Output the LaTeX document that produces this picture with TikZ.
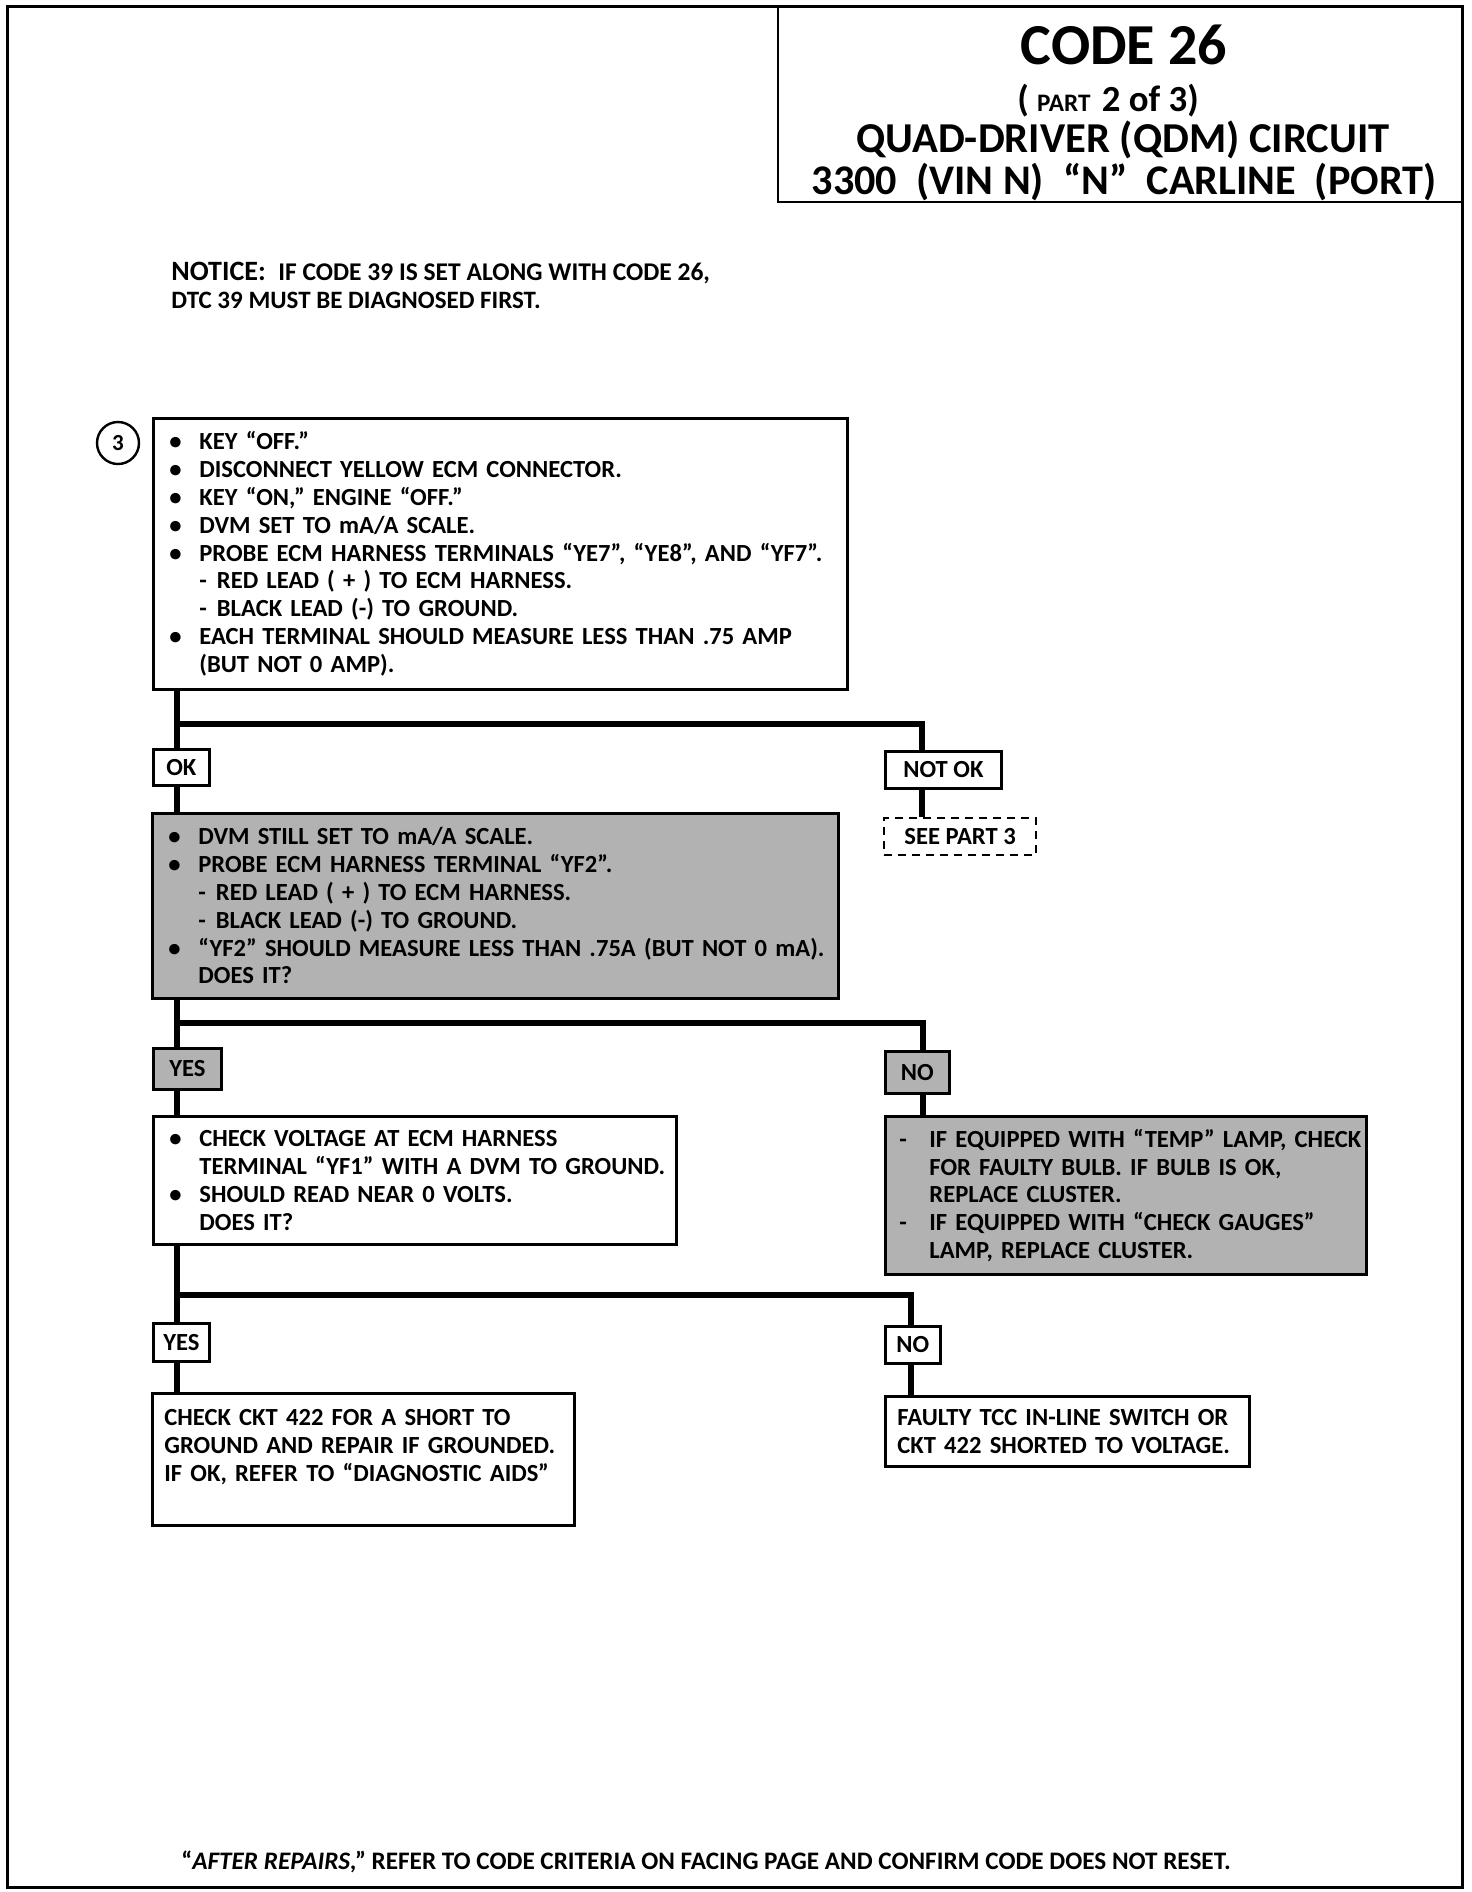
\documentclass[tikz,border=0pt]{standalone}
\usepackage{fontspec}
\setmainfont{Carlito}
\usetikzlibrary{positioning}

\newlength{\bulw}\setlength{\bulw}{15pt}
\newcommand{\bul}[1]{\makebox[\bulw][l]{\textbullet}\mbox{#1}}
\newcommand{\cnt}[1]{\hspace*{\bulw}\mbox{#1}}
\newcommand{\dsh}[1]{\hspace*{\bulw}\mbox{-\hspace{5pt}#1}}
\newcommand{\hy}[1]{\makebox[\bulw][l]{-}\mbox{#1}}

\begin{document}
\begin{tikzpicture}[x=0.5pt,y=-0.5pt,
box/.style={draw=black, line width=1.4pt, anchor=north west, align=left,
            inner xsep=8pt, inner ysep=0pt,
            font=\fontsize{12.3}{13.9}\selectfont\bfseries},
shaded/.style={box, fill=black!30},
tag/.style={draw=black, line width=1.4pt, anchor=north west, inner sep=0pt,
            font=\fontsize{12.3}{14}\selectfont\bfseries},
tagshade/.style={tag, fill=black!30},
ghost/.style={tag, line width=1.1pt, dash pattern=on 4pt off 3pt},
wire/.style={line width=3.2pt},
plain/.style={anchor=base, inner sep=0pt, font=\bfseries}
]
\useasboundingbox (0,0) rectangle (1472,1892);
\draw[line width=1.5pt] (7,6) rectangle (1462,1887);

% title block
\node[draw, line width=1.2pt, anchor=north west, minimum width=342.5pt,
      minimum height=97.5pt, inner sep=0pt] (title) at (777,6) {};
\node[plain] (code) at (1124,64) {\fontsize{29}{30}\selectfont CODE 26};
\node[plain] (part) at (1108,111)
  {\fontsize{18.4}{20}\selectfont (\ \fontsize{12.6}{14}\selectfont PART\ \ \fontsize{18.4}{20}\selectfont 2 of 3)};
\node[plain] (qdm) at (1123,152) {\fontsize{21.3}{23}\selectfont QUAD-DRIVER (QDM) CIRCUIT};
\node[plain] (vin) at (1124,194)
  {\fontsize{21.1}{23}\selectfont 3300\ \ (VIN N)\ \ “N”\ \ CARLINE\ \ (PORT)};

% notice
\node[plain, anchor=base west] (notice) at (171,280)
  {\fontsize{14}{16}\selectfont NOTICE:\ \ \fontsize{12.75}{14}\selectfont IF CODE 39 IS SET ALONG WITH CODE 26,};
\node[plain, anchor=base west, font=\fontsize{12.5}{14}\selectfont\bfseries] (notice2) at (171,308)
  {DTC 39 MUST BE DIAGNOSED FIRST.};

% step 3
\node[draw, circle, line width=1.2pt, minimum size=21pt, inner sep=0pt,
      font=\fontsize{11.5}{12}\selectfont\bfseries] (three) at (118,443) {3};

\node[box, text width=331pt, minimum height=135.5pt] (box1) at (152,417)
{\bul{KEY “OFF.”}\\
 \bul{DISCONNECT YELLOW ECM CONNECTOR.}\\
 \bul{KEY “ON,” ENGINE “OFF.”}\\
 \bul{DVM SET TO mA/A SCALE.}\\
 \bul{PROBE ECM HARNESS TERMINALS “YE7”, “YE8”, AND “YF7”.}\\
 \dsh{RED LEAD ( + ) TO ECM HARNESS.}\\
 \dsh{BLACK LEAD (-) TO GROUND.}\\
 \bul{EACH TERMINAL SHOULD MEASURE LESS THAN .75 AMP}\\
 \cnt{(BUT NOT 0 AMP).}};

\node[tag, minimum width=28pt, minimum height=18pt] (ok) at (152,748) {OK};
\node[tag, minimum width=58pt, minimum height=18.5pt] (notok) at (884,750) {NOT OK};
\node[ghost, minimum width=76pt, minimum height=18.5pt] (seep3) at (883,817) {SEE PART 3};

\node[shaded, text width=327pt, minimum height=92.5pt] (box2) at (151,812)
{\bul{DVM STILL SET TO mA/A SCALE.}\\
 \bul{PROBE ECM HARNESS TERMINAL “YF2”.}\\
 \dsh{RED LEAD ( + ) TO ECM HARNESS.}\\
 \dsh{BLACK LEAD (-) TO GROUND.}\\
 \bul{“YF2” SHOULD MEASURE LESS THAN .75A (BUT NOT 0 mA).}\\
 \cnt{DOES IT?}};

\node[tagshade, minimum width=34pt, minimum height=20.5pt] (yes1) at (152,1047) {YES};
\node[tagshade, minimum width=32pt, minimum height=21pt] (no1) at (884,1050) {NO};

\node[box, text width=245.5pt, minimum height=64pt] (box3) at (152,1115)
{\bul{CHECK VOLTAGE AT ECM HARNESS}\\
 \cnt{TERMINAL “YF1” WITH A DVM TO GROUND.}\\
 \bul{SHOULD READ NEAR 0 VOLTS.}\\
 \cnt{DOES IT?}};

\node[shaded, inner xsep=7pt, text width=226.5pt, minimum height=79pt] (box4) at (884,1115)
{\hy{IF EQUIPPED WITH “TEMP” LAMP, CHECK}\\
 \cnt{FOR FAULTY BULB. IF BULB IS OK,}\\
 \cnt{REPLACE CLUSTER.}\\
 \hy{IF EQUIPPED WITH “CHECK GAUGES”}\\
 \cnt{LAMP, REPLACE CLUSTER.}};

\node[tag, minimum width=28pt, minimum height=19pt] (yes2) at (152,1322) {YES};
\node[tag, minimum width=27.5pt, minimum height=18.5pt] (no2) at (884,1325) {NO};

\node[box, inner xsep=6pt, text width=199pt, minimum height=66pt] (box5) at (151,1392)
{CHECK CKT 422 FOR A SHORT TO\\
 GROUND AND REPAIR IF GROUNDED.\\
 IF OK, REFER TO “DIAGNOSTIC AIDS”\\
 \mbox{}};

\node[box, inner xsep=6pt, text width=170pt, minimum height=35pt] (box6) at (884,1395)
{FAULTY TCC IN-LINE SWITCH OR\\
 CKT 422 SHORTED TO VOLTAGE.};

% connectors
\coordinate (j1) at (177,724);  \coordinate (k1) at (922,724);
\coordinate (j2) at (177,1023); \coordinate (k2) at (923,1023);
\coordinate (j3) at (177,1295); \coordinate (k3) at (911,1295);

\draw[wire] (box1.south -| j1) -- (ok.north -| j1);
\draw[wire] (ok.south -| j1) -- (box2.north -| j1);
\draw[wire] (j1) -- (k1) -- (notok.north -| k1);
\draw[wire] (notok.south -| k1) -- (seep3.north -| k1);

\draw[wire] (box2.south -| j2) -- (yes1.north -| j2);
\draw[wire] (yes1.south -| j2) -- (box3.north -| j2);
\draw[wire] (j2) -- (k2) -- (no1.north -| k2);
\draw[wire] (no1.south -| k2) -- (box4.north -| k2);

\draw[wire] (box3.south -| j3) -- (yes2.north -| j3);
\draw[wire] (yes2.south -| j3) -- (box5.north -| j3);
\draw[wire] (j3) -- (k3) -- (no2.north -| k3);
\draw[wire] (no2.south -| k3) -- (box6.north -| k3);

% footer
\node[plain, anchor=base west, font=\fontsize{12.6}{14}\selectfont\bfseries] (footer) at (181,1869)
  {“\textit{AFTER REPAIRS},” REFER TO CODE CRITERIA ON FACING PAGE AND CONFIRM CODE DOES NOT RESET.};
\end{tikzpicture}
\end{document}
